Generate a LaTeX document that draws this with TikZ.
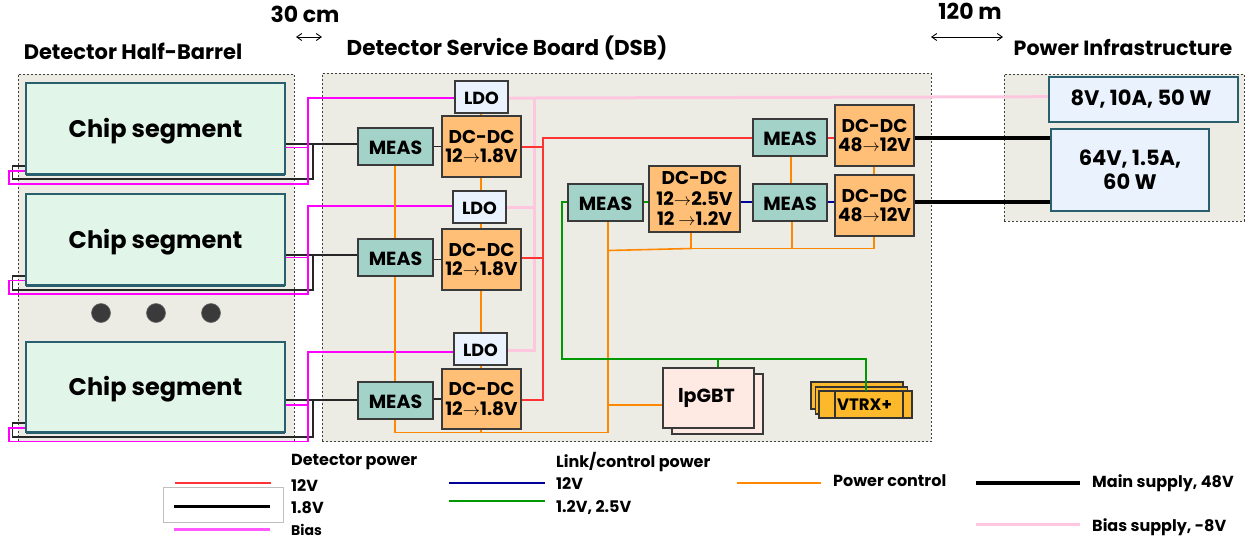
\documentclass[tikz,border=0pt]{standalone}
\usepackage{fontspec}
\setmainfont{Poppins}
\usetikzlibrary{shadows,arrows.meta,calc}
\pgfdeclarelayer{panels}\pgfdeclarelayer{lines}
\pgfsetlayers{panels,lines,main}
\definecolor{panelc}{HTML}{EDECE4}
\definecolor{chipc}{HTML}{E2F5E9}
\definecolor{chipb}{HTML}{2A5F6E}
\definecolor{measc}{HTML}{A3D3C8}
\definecolor{dcc}{HTML}{FFBF77}
\definecolor{ldoc}{HTML}{EAF3FD}
\definecolor{darkb}{HTML}{3A3A3A}
\definecolor{lpc}{HTML}{FFE9E3}
\definecolor{vtrxc}{HTML}{FDB92C}
\definecolor{redl}{HTML}{FF3333}
\definecolor{magl}{HTML}{FF00FF}
\definecolor{pinkl}{HTML}{FFC6E0}
\definecolor{orl}{HTML}{FF8800}
\definecolor{grl}{HTML}{009900}
\definecolor{blul}{HTML}{000099}
\tikzset{
  boxbase/.style={rectangle,inner sep=0pt,outer sep=0pt,align=center,text=black},
  panelbox/.style={boxbase,fill=panelc,draw=black!75,dash pattern=on 2pt off 2pt,line width=.9pt},
  chipbox/.style={boxbase,fill=chipc,draw=chipb,line width=2pt,font=\fontsize{24}{28}\selectfont\bfseries,drop shadow={shadow xshift=0pt,shadow yshift=-1.5pt,fill=chipb,opacity=1}},
  measbox/.style={boxbase,fill=measc,draw=darkb,line width=1.5pt,font=\fontsize{19}{20}\selectfont\bfseries,drop shadow={shadow xshift=0pt,shadow yshift=-1.2pt,fill=black,opacity=.6}},
  dcbox/.style={boxbase,fill=dcc,draw=darkb,line width=1.5pt,font=\fontsize{18.5}{19.5}\selectfont\bfseries},
  ldobox/.style={boxbase,fill=ldoc,draw=darkb,line width=1.5pt,font=\fontsize{17.5}{20}\selectfont\bfseries,drop shadow={shadow xshift=0pt,shadow yshift=-1.2pt,fill=black,opacity=.6}},
  supplybox/.style={boxbase,fill=ldoc,draw=chipb,line width=2pt,font=\fontsize{21}{24}\selectfont\bfseries},
  lpbox/.style={boxbase,fill=lpc,draw=darkb,line width=1.5pt,font=\fontsize{19}{24}\selectfont\bfseries},
  vtrxbox/.style={boxbase,fill=vtrxc,draw=black!80,line width=1.2pt,font=\fontsize{16.5}{20}\selectfont\bfseries},
  dotc/.style={circle,fill=darkb,draw=black!60,line width=.6pt,minimum size=19pt,inner sep=0pt},
  titlet/.style={inner sep=0pt,font=\fontsize{21}{25}\selectfont\bfseries},
  dimt/.style={inner sep=0pt,font=\fontsize{22}{26}\selectfont\bfseries},
  legt/.style={inner sep=0pt,anchor=west,font=\fontsize{16}{19}\selectfont\bfseries},
  blk/.style={draw=black!85,line width=1.4pt},
  mag/.style={draw=magl,line width=1.6pt},
  pnk/.style={draw=pinkl,line width=3pt},
  redw/.style={draw=redl,line width=1.8pt},
  orw/.style={draw=orl,line width=1.6pt},
  grw/.style={draw=grl,line width=1.6pt},
  blw/.style={draw=blul,line width=1.6pt},
  thk/.style={draw=black,line width=4pt},
  dimarrow/.style={draw=black,line width=.9pt,{Straight Barb[length=5pt,width=7pt]}-{Straight Barb[length=5pt,width=7pt]}},
}
% box from its corners: style, name, x1, y1, x2, y2, text
\newcommand{\bx}[7]{\node[#1,minimum width={(#5-#3)*1pt},minimum height={(#6-#4)*1pt}] (#2) at ({(#3+#5)/2},{(#4+#6)/2}) {#7};}
\newcommand{\legl}[5]{\coordinate (#1a) at (#3,#5);\coordinate (#1b) at (#4,#5);\draw[#2] (#1a) -- (#1b);}
\newcommand{\tto}{$\rightarrow$}
\newcommand{\lowr}[2]{\raisebox{-#1}[\height][\depth]{#2}}
\begin{document}
\begin{tikzpicture}[x=1pt,y=-1pt]
\useasboundingbox (0,0) rectangle (1248,539);
% panels
\begin{pgfonlayer}{panels}
\bx{panelbox}{halfbarrel}{18}{74}{294}{441}{}
\bx{panelbox}{dsb}{322}{73}{931}{441.5}{}
\bx{panelbox}{powerinf}{1004}{74}{1244}{221}{}
\end{pgfonlayer}
% titles
\node[titlet] (t1) at (133,51) {Detector Half-Barrel};
\node[titlet,font=\fontsize{21.5}{25}\selectfont\bfseries] (t2) at (507,48) {Detector Service Board (DSB)};
\node[titlet,font=\fontsize{20.6}{25}\selectfont\bfseries] (t3) at (1123,48) {Power Infrastructure};
\node[dimt] (d1) at (305,14) {30 cm};
\node[dimt] (d2) at (970,11) {120 m};
\coordinate (a1l) at (296,37);\coordinate (a1r) at (322,37);
\coordinate (a2l) at (931,37);\coordinate (a2r) at (1003,37);
\draw[dimarrow] (a1l) -- (a1r);
\draw[dimarrow] (a2l) -- (a2r);
% chips
\bx{chipbox}{chip1}{26}{83}{285}{174}{\lowr{2.5pt}{Chip segment}}
\bx{chipbox}{chip2}{26}{194}{285}{285}{\lowr{2.5pt}{Chip segment}}
\bx{chipbox}{chip3}{26}{342}{285}{432}{\lowr{2.5pt}{Chip segment}}
\node[dotc] (c1) at (101,313) {};
\node[dotc] (c2) at (156,313) {};
\node[dotc] (c3) at (211,313) {};
% left column
\bx{measbox}{m1}{358}{128}{433}{165}{\lowr{1pt}{MEAS}}
\bx{measbox}{m2}{358}{239}{433}{276}{\lowr{1pt}{MEAS}}
\bx{measbox}{m3}{358}{382}{433}{419}{\lowr{1pt}{MEAS}}
\bx{dcbox}{dc1}{442}{116}{521}{177}{DC-DC\\12\tto1.8V}
\bx{dcbox}{dc2}{442}{229}{521}{290}{DC-DC\\12\tto1.8V}
\bx{dcbox}{dc3}{442}{369}{521}{429}{DC-DC\\12\tto1.8V}
\bx{ldobox}{l1}{455}{81}{508}{113}{\lowr{1pt}{LDO}}
\bx{ldobox}{l2}{453}{191}{506}{223}{\lowr{1pt}{LDO}}
\bx{ldobox}{l3}{454}{333}{507}{365}{\lowr{1pt}{LDO}}
% central
\bx{measbox}{m4}{568}{184}{643}{221}{\lowr{1pt}{MEAS}}
\bx{dcbox}{dc4}{649}{166}{740}{232}{DC-DC\\[1pt]12\tto2.5V\\[1pt]12 \tto1.2V}
\bx{measbox}{m5}{753}{119}{827}{156}{\lowr{1pt}{MEAS}}
\bx{measbox}{m6}{753}{184}{827}{221}{\lowr{1pt}{MEAS}}
\bx{dcbox}{dc5}{835}{105}{914}{166}{DC-DC\\48\tto12V}
\bx{dcbox}{dc6}{835}{175}{914}{236}{DC-DC\\48\tto12V}
% lpGBT and VTRX
\bx{lpbox}{lpb}{672}{374}{763}{434}{}
\bx{lpbox}{lp}{663}{368}{754}{428}{\kern-4pt lpGBT}
\bx{vtrxbox}{vb}{811}{382}{903}{409}{}
\bx{vtrxbox}{vm}{815.5}{387}{907.5}{414}{}
\bx{vtrxbox}{vt}{819}{391}{912}{418}{}
\bx{vtrxbox}{vi}{835}{391}{903}{418}{\kern-9pt VTRX+}
% power
\bx{supplybox}{p1}{1049}{77}{1238}{122}{\kern-5pt 8V, 10A, 50 W}
\bx{supplybox}{p2}{1051}{129}{1209}{211}{64V, 1.5A,\\60 W}
% connectors
\begin{pgfonlayer}{lines}
% black
\draw[blk] (chip1.east|-0,144) -- (m1.west|-0,144);
\draw[blk] (chip2.east|-0,255) -- (m2.west|-0,255);
\draw[blk] (chip3.east|-0,400) -- (m3.west|-0,400);
\draw[blk] (chip1.west|-0,166) -| (12.5,179) -| (313,144);
\draw[blk] (chip2.west|-0,276) -| (12.5,290) -| (313,255);
\draw[blk] (chip3.west|-0,423) -| (12.5,437) -| (313,400);
\draw[blk] (m1.east|-dc1.west) -- (dc1.west);
\draw[blk] (m2.east|-dc2.west) -- (dc2.west);
\draw[blk] (m3.east|-dc3.west) -- (dc3.west);
% magenta
\draw[mag] (chip1.east|-0,147.5) -- (308,147.5);
\draw[mag] (chip2.east|-0,257.5) -- (308,257.5);
\draw[mag] (chip3.east|-0,405) -- (308,405);
\draw[mag] (chip1.west|-0,171) -| (9,184) -| (308,98) -- (l1.west|-0,98);
\draw[mag] (chip2.west|-0,280.5) -| (9,294) -| (308,206) -- (l2.west|-0,206);
\draw[mag] (chip3.west|-0,428) -| (9,441.5) -| (308,352) -- (l3.west|-0,352);
% pink
\draw[pnk] (l1.east|-0,98) -- (534,98) -- (p1.west|-0,96.7);
\draw[pnk] (534,98) |- (l3.east|-0,350);
\draw[pnk] (l2.east|-0,207) -- (534,207);
% orange
\draw[orw] (m1.south-|395,0) -- (m2.north-|395,0);
\draw[orw] (m2.south-|395,0) -- (m3.north-|395,0);
\draw[orw] (m3.south-|395,0) -- (395,432.5) -- (608,432.5) -- (m4.south-|608,0);
\draw[orw] (l1.south-|481,0) -- (dc1.north-|481,0);
\draw[orw] (dc1.south-|481,0) -- (l2.north-|481,0);
\draw[orw] (l2.south-|481,0) -- (dc2.north-|481,0);
\draw[orw] (dc2.south-|481,0) -- (l3.north-|481,0);
\draw[orw] (l3.south-|481,0) -- (dc3.north-|481,0);
\draw[orw] (dc3.south-|481,0) -- (481,432.5);
\draw[orw] (608,250.5) -- (691,248.5) -- (dc4.south-|691,0);
\draw[orw] (691,248.5) -- (874,248.5) -- (dc6.south-|874,0);
\draw[orw] (m6.south-|792,0) -- (792,248.5);
\draw[orw] (m5.south-|791,0) -- (m6.north-|791,0);
\draw[orw] (dc5.south-|874,0) -- (dc6.north-|874,0);
\draw[orw] (608,405) -- (lp.west|-0,405);
% red
\draw[redw] (dc1.east|-0,147) -- (543,147);
\draw[redw] (dc2.east|-0,258) -- (543,258);
\draw[redw] (dc3.east|-0,400) -| (543,138) -- (m5.west|-0,138);
\draw[redw] (m5.east|-0,138) -- (dc5.west|-0,138);
% blue and green
\draw[blw] (dc4.east|-0,202) -- (m6.west|-0,202);
\draw[blw] (m6.east|-0,202) -- (dc6.west|-0,202);
\draw[grw] (m4.east|-0,202) -- (dc4.west|-0,202);
\draw[grw] (m4.west|-0,202) -| (562,359) -| (vt.north-|866,0);
\draw[grw] (718,359) -- (lp.north-|718,0);
% thick
\draw[thk] (dc5.east|-0,138) -- (p2.west|-0,138);
\draw[thk] (dc6.east|-0,202) -- (p2.west|-0,202);
\end{pgfonlayer}
\coordinate (grtop) at (866,372);
\draw[grw] (grtop) -- (vt.north-|866,0);
% legend
\bx{boxbase,draw=black!25,line width=1pt}{legbox}{163}{487}{283}{522}{}
\legl{l12}{draw=redl,line width=1.6pt}{175}{271}{483}
\legl{l18}{draw=black,line width=3pt}{174}{270}{506}
\legl{lbi}{draw=magl!65,line width=3pt}{174}{270}{529}
\legl{lk12}{draw=blul,line width=1.6pt}{449}{545}{483}
\legl{lk25}{draw=grl,line width=1.6pt}{449}{545}{501}
\legl{lpc}{draw=orl,line width=1.6pt}{737}{821}{483}
\legl{lms}{draw=black,line width=4pt}{976}{1080}{483}
\legl{lbs}{draw=pinkl,line width=3pt}{976}{1080}{524}
\node[legt] (x1) at (291,462) {Detector power};
\node[legt] (x2) at (291,486) {12V};
\node[legt] (x3) at (291,508) {1.8V};
\node[legt,font=\fontsize{14}{16}\selectfont\bfseries] (x4) at (291,530) {Bias};
\node[legt] (x5) at (556,462) {Link/control power};
\node[legt] (x6) at (556,484) {12V};
\node[legt] (x7) at (556,508) {1.2V, 2.5V};
\node[legt] (x8) at (833,481) {Power control};
\node[legt] (x9) at (1092,483) {Main supply, 48V};
\node[legt] (x10) at (1092,527) {Bias supply, -8V};
\end{tikzpicture}
\end{document}
